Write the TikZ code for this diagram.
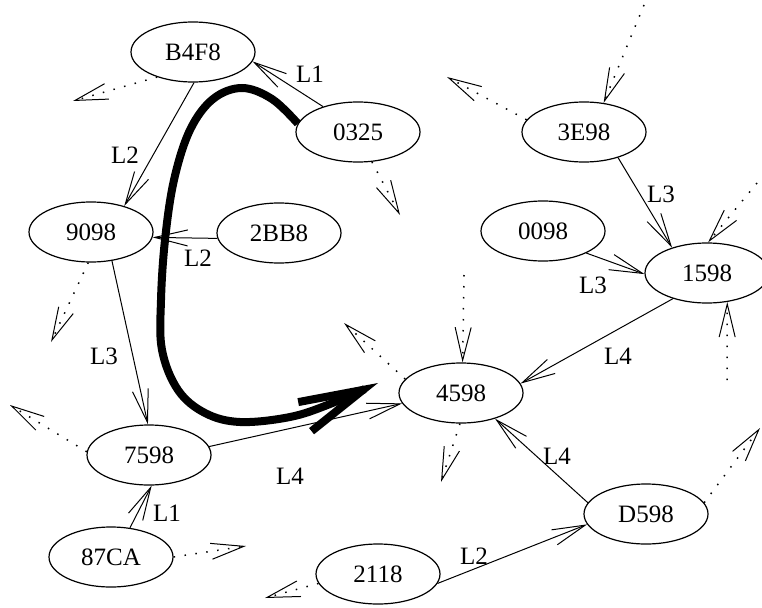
\documentclass[tikz,border=0pt]{standalone}
\usepackage{fontspec}
\setmainfont{Liberation Serif}
\usetikzlibrary{arrows.meta,shapes.geometric}
\newcommand{\keynode}[3]{\node[key] (#1) at (#2) {#3};}
\newcommand{\linklabel}[3]{\node[lbl] (#1) at (#2) {#3};}

\begin{document}
\begin{tikzpicture}[x=1pt,y=-1pt,
  key/.style={draw,ellipse,line width=1.2pt,minimum width=124pt,minimum height=60pt,
    inner sep=0pt,font=\fontsize{25}{30}\selectfont},
  lbl/.style={inner sep=0pt,font=\fontsize{25}{30}\selectfont},
  link/.style={line width=1pt,-{Straight Barb[length=33pt,width=16pt]}},
  stub/.style={line width=1.5pt,dash pattern=on 1.5pt off 9.5pt,
    -{Straight Barb[length=33pt,width=16pt,line width=1pt]}},
  walk/.style={line width=8pt,-{Straight Barb[length=64pt,width=32pt]}}]
\useasboundingbox (0,0) rectangle (762,607);
% keys
\keynode{kB4F8}{193,52}{B4F8}
\keynode{k0325}{358,132}{0325}
\keynode{k3E98}{584,132}{3E98}
\keynode{k9098}{91,232}{9098}
\keynode{k2BB8}{279,233}{2BB8}
\keynode{k0098}{543,231}{0098}
\keynode{k1598}{707,273}{1598}
\keynode{k4598}{461,393}{4598}
\keynode{k7598}{149,455}{7598}
\keynode{k87CA}{111,557}{87CA}
\keynode{k2118}{378,574}{2118}
\keynode{kD598}{646,514}{D598}
% links
\draw[link] (k0325.144)--(kB4F8.-9);
\draw[link] (kB4F8.-88)--(k9098.38);
\draw[link] (k2BB8.185)--(k9098.-5);
\draw[link] (k9098.-54)--(k7598.92);
\draw[link] (k7598.8)--(k4598.190);
\draw[link] (k87CA.57)--(k7598.-85);
\draw[link] (k3E98.-37)--(k1598.144);
\draw[link] (k0098.-27)--(k1598.181);
\draw[link] (k1598.217)--(k4598.9);
\draw[link] (kD598.169)--(k4598.-37);
\draw[link] (k2118.-9)--(kD598.190);
\linklabel{lA}{310,74}{L1}
\linklabel{lB}{125,155}{L2}
\linklabel{lC}{198,258}{L2}
\linklabel{lD}{104,356}{L3}
\linklabel{lE}{290,476}{L4}
\linklabel{lF}{167,513}{L1}
\linklabel{lG}{661,194}{L3}
\linklabel{lH}{593,285}{L3}
\linklabel{lI}{618,356}{L4}
\linklabel{lJ}{557,456}{L4}
\linklabel{lK}{474,556}{L2}
% dotted stubs
\coordinate (tB4F8) at (73,101);
\coordinate (t0325) at (400,215);
\coordinate (s3E98) at (644,5);
\coordinate (t3E98) at (447,77);
\coordinate (s1598a) at (757,183);
\coordinate (s1598b) at (727,380);
\coordinate (tD598) at (760,428);
\coordinate (t4598a) at (344,323);
\coordinate (s4598) at (464,275);
\coordinate (t4598b) at (441,482);
\coordinate (t9098) at (51,342);
\coordinate (t7598) at (10,405);
\coordinate (t87CA) at (246,546);
\coordinate (t2118) at (265,598);
\draw[stub] (kB4F8.215)--(tB4F8);
\draw[stub] (k0325.-65)--(t0325);
\draw[stub] (s3E98)--(k3E98.56);
\draw[stub] (k3E98.168)--(t3E98);
\draw[stub] (s1598a)--(k1598.88);
\draw[stub] (s1598b)--(k1598.-55);
\draw[stub] (kD598.11)--(tD598);
\draw[stub] (k4598.166)--(t4598a);
\draw[stub] (s4598)--(k4598.87);
\draw[stub] (k4598.-92)--(t4598b);
\draw[stub] (k9098.-95)--(t9098);
\draw[stub] (k7598.177)--(t7598);
\draw[stub] (k87CA.0)--(t87CA);
\draw[stub] (k2118.189)--(t2118);
% walk
\draw[walk] plot[smooth,tension=0.6] coordinates {(k0325.172) (272,99) (242,88)
  (213,99) (190,130) (174,180) (165,240) (161,300) (162,350) (178,390) (205,413)
  (240,422) (290,417) (330,404) (378,383)};
\end{tikzpicture}
\end{document}
